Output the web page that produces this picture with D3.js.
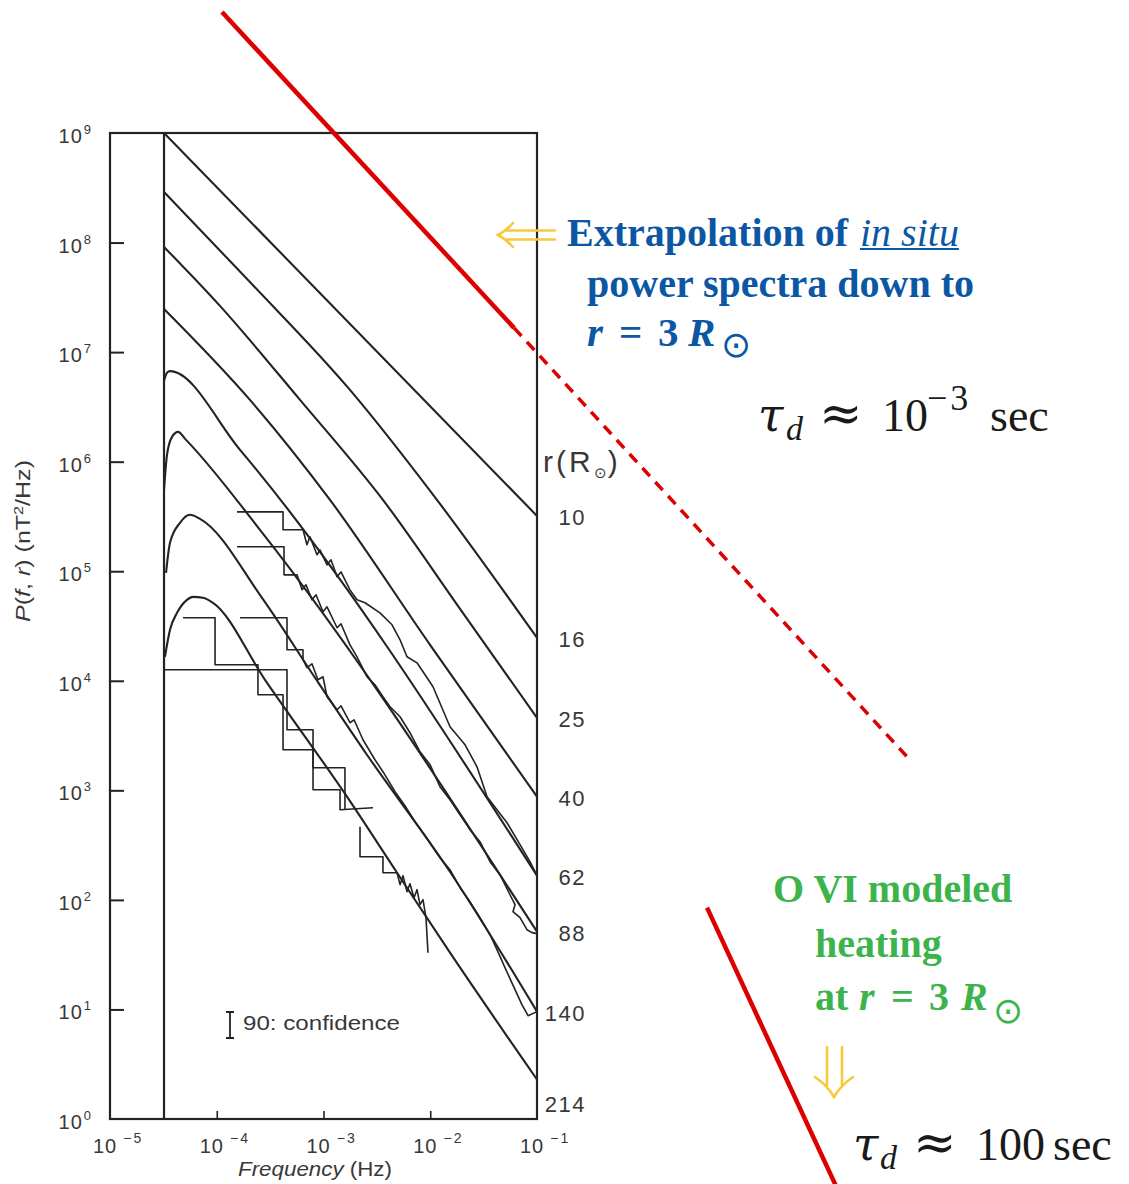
<!DOCTYPE html>
<html><head><meta charset="utf-8">
<script src="https://cdn.jsdelivr.net/npm/d3@7/dist/d3.min.js"></script>
<style>html,body{margin:0;padding:0;background:#fff;} svg{display:block;}</style>
</head><body>
<svg id="chart" width="1129" height="1184"></svg>
<script>
// ---------------- data (log10 frequency [Hz], log10 power [nT^2/Hz]) ----------------
const xTickExponents = [-5, -4, -3, -2, -1];
const yTickExponents = [0, 1, 2, 3, 4, 5, 6, 7, 8, 9];
const radiusLabels = ["10", "16", "25", "40", "62", "88", "140", "214"];
const lowFreqCutoffLog = -4.494;

const model10Log  = [[-4.494, 9.0], [-1.0, 5.505]];
const model16Log  = [[-4.494, 8.462], [-3.689, 7.640], [-2.752, 6.655], [-1.937, 5.651], [-1.0, 4.392]];
const model25Log  = [[-4.494, 7.960], [-3.970, 7.422], [-3.220, 6.564], [-2.443, 5.651], [-1.721, 4.657], [-1.0, 3.662]];
const model40Log  = [[-4.494, 7.394], [-3.689, 6.564], [-2.939, 5.651], [-2.002, 4.328], [-1.0, 2.942]];
const model62Log  = [[-4.494, 6.740], [-4.466, 6.812], [-4.438, 6.826], [-3.782, 6.108], [-1.0, 2.221]];
const model88Log  = [[-4.494, 5.743], [-4.466, 6.062], [-4.419, 6.226], [-4.363, 6.272], [-4.288, 6.199], [-3.595, 5.378], [-1.0, 1.710]];
const model140Log = [[-4.475, 4.985], [-4.438, 5.259], [-4.344, 5.442], [-4.251, 5.515], [-4.157, 5.478], [-3.576, 4.757], [-3.098, 4.055], [-2.593, 3.325], [-1.815, 2.257], [-1.0, 0.980]];
const model214Log = [[-4.485, 4.219], [-4.438, 4.465], [-4.372, 4.620], [-4.279, 4.739], [-4.222, 4.766], [-4.129, 4.757], [-4.035, 4.712], [-3.548, 4.009], [-2.780, 2.942], [-2.311, 2.248], [-1.815, 1.518], [-1.0, 0.360]];

const obs62Log = [[-3.810, 5.542], [-3.379, 5.542], [-3.379, 5.378], [-3.192, 5.378], [-3.155, 5.241], [-3.127, 5.314], [-3.061, 5.150], [-3.033, 5.195], [-2.967, 5.058], [-2.930, 5.104], [-2.873, 4.949], [-2.836, 4.994], [-2.752, 4.830], [-2.686, 4.739], [-2.611, 4.712], [-2.471, 4.620], [-2.358, 4.511], [-2.283, 4.374], [-2.218, 4.219], [-2.124, 4.164], [-1.974, 3.945], [-1.815, 3.580], [-1.674, 3.416], [-1.562, 3.215], [-1.468, 2.942], [-1.375, 2.823], [-1.281, 2.704], [-1.159, 2.504], [-1.066, 2.349], [-1.0, 2.221]];
const obs88Log = [[-3.810, 5.223], [-3.370, 5.223], [-3.370, 4.967], [-3.248, 4.967], [-3.201, 4.830], [-3.164, 4.876], [-3.108, 4.739], [-3.070, 4.785], [-3.005, 4.630], [-2.967, 4.675], [-2.873, 4.484], [-2.836, 4.520], [-2.752, 4.328], [-2.686, 4.219], [-2.593, 4.037], [-2.518, 3.964], [-2.443, 3.854], [-2.377, 3.763], [-2.283, 3.672], [-2.190, 3.526], [-2.096, 3.352], [-2.002, 3.234], [-1.909, 3.033], [-1.815, 2.914], [-1.721, 2.777], [-1.628, 2.641], [-1.534, 2.531], [-1.440, 2.349], [-1.347, 2.230], [-1.253, 2.047], [-1.206, 1.956], [-1.225, 1.892], [-1.159, 1.838], [-1.094, 1.728], [-1.047, 1.701], [-1.0, 1.692]];
const obs140Log = [[-3.782, 4.575], [-3.342, 4.575], [-3.342, 4.283], [-3.192, 4.283], [-3.192, 4.192], [-3.155, 4.119], [-3.108, 4.155], [-3.052, 4.009], [-3.005, 4.037], [-2.967, 3.854], [-2.873, 3.735], [-2.836, 3.772], [-2.752, 3.617], [-2.714, 3.644], [-2.630, 3.462], [-2.518, 3.279], [-2.443, 3.170], [-2.330, 2.987], [-2.237, 2.859], [-2.143, 2.714], [-2.049, 2.586], [-1.909, 2.385], [-1.815, 2.276], [-1.721, 2.111], [-1.628, 1.984], [-1.534, 1.838], [-1.440, 1.683], [-1.375, 1.546], [-1.300, 1.382], [-1.206, 1.181], [-1.141, 1.044], [-1.084, 0.943], [-1.0, 0.980]];
const obs214aLog = [[-4.494, 4.100], [-3.342, 4.100], [-3.342, 3.553], [-3.098, 3.553], [-3.098, 3.006], [-2.845, 3.006], [-2.845, 2.823], [-2.536, 2.841]];
const obs214bLog = [[-4.316, 4.575], [-4.016, 4.575], [-4.016, 4.146], [-3.614, 4.146], [-3.614, 3.872], [-3.379, 3.872], [-3.379, 3.371], [-3.098, 3.371], [-3.098, 3.206], [-2.799, 3.206], [-2.799, 2.823]];
const obs214cLog = [[-2.658, 2.668], [-2.658, 2.394], [-2.443, 2.394], [-2.443, 2.248], [-2.311, 2.248], [-2.283, 2.139], [-2.255, 2.221], [-2.218, 2.075], [-2.190, 2.148], [-2.152, 2.020], [-2.124, 2.093], [-2.096, 1.956], [-2.068, 2.002], [-2.040, 1.838], [-2.021, 1.518]];

// extrapolation / heating lines (same log-log space)
const redSolidLog  = [[-3.951, 10.104], [-1.215, 7.221]];
const redDashedLog = [[-1.215, 7.221], [2.475, 3.298]];
const redLowerLog  = [[0.593, 1.929], [1.838, -0.690]];

// ---------------- drawing ----------------
const svg = d3.select("#chart");
const x = d3.scaleLog().domain([1e-5, 1e-1]).range([110, 537]);
const y = d3.scaleLog().domain([1, 1e9]).range([1119, 133]);
const px = d => x(Math.pow(10, d[0]));
const py = d => y(Math.pow(10, d[1]));
const straight = d3.line().x(px).y(py);
const smooth = d3.line().x(px).y(py).curve(d3.curveMonotoneX);

const ink = "#232323";
const scanFont = "Liberation Sans, Arial, sans-serif";
const serif = "Liberation Serif, Times New Roman, serif";
const g = svg.append("g");

// frame
g.append("rect")
  .attr("x", x(1e-5)).attr("y", y(1e9))
  .attr("width", x(1e-1) - x(1e-5)).attr("height", y(1) - y(1e9))
  .attr("fill", "none").attr("stroke", ink).attr("stroke-width", 2.2);

// left ticks (inward)
g.append("g").attr("transform", `translate(${x(1e-5)},0)`)
  .call(d3.axisLeft(y).tickValues(yTickExponents.slice(1, -1).map(e => Math.pow(10, e))).tickSize(-14).tickFormat(""))
  .call(a => a.select(".domain").remove())
  .selectAll("line").attr("stroke", ink).attr("stroke-width", 2);

// bottom ticks (inward)
g.append("g").attr("transform", `translate(0,${y(1)})`)
  .call(d3.axisBottom(x).tickValues(xTickExponents.slice(1, -1).map(e => Math.pow(10, e))).tickSize(-8).tickFormat(""))
  .call(a => a.select(".domain").remove())
  .selectAll("line").attr("stroke", ink).attr("stroke-width", 1.6);

// low frequency cutoff line
g.append("line")
  .attr("x1", x(Math.pow(10, lowFreqCutoffLog))).attr("x2", x(Math.pow(10, lowFreqCutoffLog)))
  .attr("y1", y(1e9)).attr("y2", y(1))
  .attr("stroke", ink).attr("stroke-width", 2.2);

// y tick labels
const yl = g.selectAll("text.yl").data(yTickExponents).join("text")
  .attr("class", "yl")
  .attr("x", 91).attr("y", e => y(Math.pow(10, e)) + 10)
  .attr("text-anchor", "end")
  .attr("font-family", scanFont).attr("font-size", 20).attr("fill", "#383838");
yl.append("tspan").attr("letter-spacing", 1).text("10");
yl.append("tspan").attr("dy", -9).attr("dx", 1).attr("font-size", 13).text(e => e);

// x tick labels
const xl = g.selectAll("text.xl").data(xTickExponents).join("text")
  .attr("class", "xl")
  .attr("x", e => x(Math.pow(10, e)) - 17).attr("y", 1153)
  .attr("font-family", scanFont).attr("font-size", 20).attr("fill", "#383838");
xl.append("tspan").attr("letter-spacing", 1).text("10");
xl.append("tspan").attr("dy", -10).attr("dx", 6).attr("font-size", 14).attr("letter-spacing", 2).text(e => "\u2212" + Math.abs(e));

// axis titles
g.append("text")
  .attr("transform", "translate(30,541) rotate(-90)")
  .attr("text-anchor", "middle")
  .attr("font-family", scanFont).attr("font-size", 20).attr("fill", "#383838")
  .attr("textLength", 162).attr("lengthAdjust", "spacingAndGlyphs")
  .call(t => {
    t.append("tspan").attr("font-style", "italic").text("P");
    t.append("tspan").text("(");
    t.append("tspan").attr("font-style", "italic").text("f");
    t.append("tspan").text(", ");
    t.append("tspan").attr("font-style", "italic").text("r");
    t.append("tspan").text(") (nT");
    t.append("tspan").attr("dy", -7).attr("font-size", 13).text("2");
    t.append("tspan").attr("dy", 7).text("/Hz)");
  });

g.append("text")
  .attr("x", 238).attr("y", 1176)
  .attr("font-family", scanFont).attr("font-size", 20).attr("fill", "#383838")
  .attr("textLength", 154).attr("lengthAdjust", "spacingAndGlyphs")
  .call(t => {
    t.append("tspan").attr("font-style", "italic").text("Frequency");
    t.append("tspan").text(" (Hz)");
  });

// model spectra
const models = [model10Log, model16Log, model25Log, model40Log, model62Log, model88Log, model140Log, model214Log];
g.selectAll("path.model").data(models).join("path")
  .attr("class", "model")
  .attr("d", smooth)
  .attr("fill", "none").attr("stroke", ink).attr("stroke-width", 2.1);

// observed spectra
const observed = [obs62Log, obs88Log, obs140Log, obs214aLog, obs214bLog, obs214cLog];
g.selectAll("path.obs").data(observed).join("path")
  .attr("class", "obs")
  .attr("d", straight)
  .attr("fill", "none").attr("stroke", ink).attr("stroke-width", 1.6).attr("stroke-linejoin", "round");

// right-side radius labels
g.append("text")
  .attr("x", 543).attr("y", 472)
  .attr("font-family", scanFont).attr("font-size", 30).attr("fill", "#383838")
  .call(t => {
    t.append("tspan").attr("letter-spacing", 3).text("r(R");
    t.append("tspan").attr("dy", 6).attr("font-size", 15).text("\u2299");
    t.append("tspan").attr("dy", -6).attr("dx", 1).text(")");
  });
g.selectAll("text.rl").data(radiusLabels).join("text")
  .attr("class", "rl")
  .attr("x", 586)
  .attr("y", (r, i) => py(models[i][models[i].length - 1]) + 9 + (r === "214" ? 23 : 0))
  .attr("text-anchor", "end")
  .attr("font-family", scanFont).attr("font-size", 22).attr("letter-spacing", 1.5).attr("fill", "#383838")
  .text(r => r);

// confidence marker
g.append("path")
  .attr("d", "M226,1012H234M230,1012V1038M226,1038H234")
  .attr("stroke", ink).attr("stroke-width", 1.8).attr("fill", "none");
g.append("text")
  .attr("x", 243).attr("y", 1030)
  .attr("font-family", scanFont).attr("font-size", 20).attr("fill", "#383838")
  .attr("textLength", 157).attr("lengthAdjust", "spacingAndGlyphs")
  .text("90: confidence");

// red lines
const red = "#dc0000";
svg.append("path").attr("d", straight(redSolidLog)).attr("stroke", red).attr("stroke-width", 4.5).attr("fill", "none");
svg.append("path").attr("d", straight(redDashedLog)).attr("stroke", red).attr("stroke-width", 3.5).attr("stroke-dasharray", "11,8").attr("fill", "none");
svg.append("path").attr("d", straight(redLowerLog)).attr("stroke", red).attr("stroke-width", 4.5).attr("fill", "none");

// ---------------- annotations ----------------
const blue = "#0b57a4", green = "#3cb44b", yellow = "#f8c93a", black = "#1a1a1a";
function txt(xp, yp, s, opts) {
  const t = svg.append("text").attr("x", xp).attr("y", yp).text(s)
    .attr("font-family", serif);
  Object.entries(opts || {}).forEach(([k, v]) => t.attr(k, v));
  return t;
}

// yellow left arrow
svg.append("path")
  .attr("d", "M506,230.5H555M506,239.5H555M513,223Q506,231 498,235Q506,239 513,247")
  .attr("stroke", yellow).attr("stroke-width", 2.6).attr("fill", "none").attr("stroke-linecap", "round");

txt(567, 246, "Extrapolation of", {"font-size": 40, "font-weight": "bold", fill: blue});
const insitu = txt(860, 246, "in situ", {"font-size": 40, "font-style": "italic", fill: blue});
const ib = insitu.node().getBBox();
svg.append("line").attr("x1", ib.x).attr("x2", ib.x + ib.width).attr("y1", 249).attr("y2", 249)
  .attr("stroke", blue).attr("stroke-width", 2);
txt(587, 297, "power spectra down to", {"font-size": 40, "font-weight": "bold", fill: blue});
txt(587, 346, "r", {"font-size": 41, "font-weight": "bold", "font-style": "italic", fill: blue});
txt(619, 346, "=", {"font-size": 41, "font-weight": "bold", fill: blue});
txt(658, 346, "3", {"font-size": 41, "font-weight": "bold", fill: blue});
txt(688, 346, "R", {"font-size": 41, "font-weight": "bold", "font-style": "italic", fill: blue});
txt(721, 357, "\u2299", {"font-size": 36, "font-family": "DejaVu Sans", fill: blue});

// tau 1
txt(758, 431, "\u03C4", {"font-size": 46, "font-style": "italic", "font-family": "DejaVu Serif", fill: black});
txt(786, 440, "d", {"font-size": 34, "font-style": "italic", fill: black});
txt(819, 431, "\u2248", {"font-size": 52, "font-family": "DejaVu Serif", fill: black});
txt(882, 431, "10", {"font-size": 46, fill: black});
txt(927, 410, "\u22123", {"font-size": 36, "letter-spacing": 3, fill: black});
txt(990, 431, "sec", {"font-size": 46, fill: black});

// green block
txt(773, 902, "O VI modeled", {"font-size": 40, "font-weight": "bold", fill: green});
txt(815, 957, "heating", {"font-size": 40, "font-weight": "bold", fill: green});
txt(815, 1010, "at", {"font-size": 40, "font-weight": "bold", fill: green});
txt(859, 1010, "r", {"font-size": 40, "font-weight": "bold", "font-style": "italic", fill: green});
txt(891, 1010, "=", {"font-size": 40, "font-weight": "bold", fill: green});
txt(929, 1010, "3", {"font-size": 40, "font-weight": "bold", fill: green});
txt(961, 1010, "R", {"font-size": 40, "font-weight": "bold", "font-style": "italic", fill: green});
txt(993, 1023, "\u2299", {"font-size": 36, "font-family": "DejaVu Sans", fill: green});

// yellow down arrow
svg.append("path")
  .attr("d", "M827,1047V1085M842,1047V1085M815,1077Q827,1085 834,1097Q841,1085 853,1077")
  .attr("stroke", yellow).attr("stroke-width", 2.6).attr("fill", "none").attr("stroke-linecap", "round");

// tau 2
txt(853, 1160, "\u03C4", {"font-size": 46, "font-style": "italic", "font-family": "DejaVu Serif", fill: black});
txt(880, 1169, "d", {"font-size": 34, "font-style": "italic", fill: black});
txt(913, 1160, "\u2248", {"font-size": 52, "font-family": "DejaVu Serif", fill: black});
txt(976, 1160, "100", {"font-size": 46, fill: black});
txt(1053, 1160, "sec", {"font-size": 46, fill: black});
</script>
</body></html>
